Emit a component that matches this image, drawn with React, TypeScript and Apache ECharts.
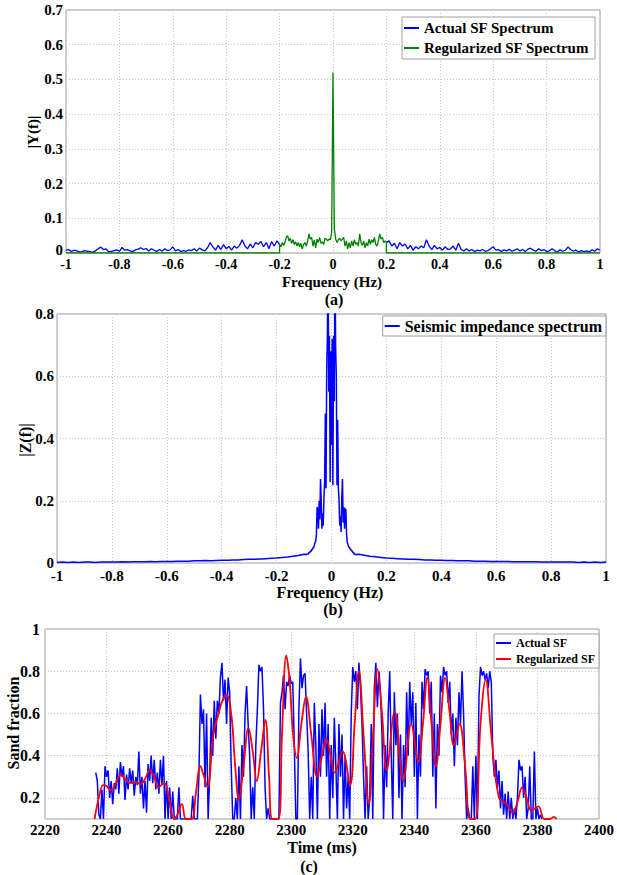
import React, { useEffect, useRef } from "react";
import * as echarts from "echarts";

const FONT = "'Liberation Serif', 'Times New Roman', serif";

// ---------- (a) spectra ----------
const freqTicksA = { min: -1, max: 1, step: 0.2 };
// Actual SF spectrum, f = -1.00 ... -0.20 (step 0.01)
const actualLeft = [
  0.008, 0.01, 0.004, 0.008, 0.006, 0.003, 0.004, 0.007, 0.005, 0.004,
  0.002, 0.006, 0.012, 0.017, 0.01, 0.012, 0.003, 0.005, 0.007, 0.009,
  0.005, 0.016, 0.008, 0.01, 0.006, 0.004, 0.009, 0.011, 0.015, 0.01,
  0.013, 0.006, 0.012, 0.008, 0.004, 0.01, 0.005, 0.012, 0.007, 0.009,
  0.018, 0.006, 0.01, 0.004, 0.007, 0.005, 0.009, 0.007, 0.012, 0.006,
  0.014, 0.009, 0.006, 0.015, 0.03, 0.018, 0.008, 0.022, 0.01, 0.024,
  0.012, 0.019, 0.008, 0.02, 0.014, 0.022, 0.038, 0.02, 0.012, 0.026,
  0.015, 0.03, 0.025, 0.033, 0.018, 0.03, 0.012, 0.033, 0.02, 0.035,
  0.025,
];
// Actual SF spectrum, f = 0.20 ... 1.00 (step 0.01)
const actualRight = [
  0.03, 0.035, 0.02, 0.028, 0.012, 0.03, 0.02, 0.026, 0.012, 0.022,
  0.008, 0.018, 0.012, 0.02, 0.015, 0.038, 0.02, 0.01, 0.022, 0.012,
  0.016, 0.008, 0.018, 0.01, 0.012, 0.02, 0.008, 0.028, 0.01, 0.006,
  0.012, 0.006, 0.01, 0.004, 0.008, 0.006, 0.01, 0.005, 0.007, 0.012,
  0.018, 0.008, 0.01, 0.004, 0.009, 0.006, 0.011, 0.005, 0.008, 0.012,
  0.006, 0.01, 0.004, 0.011, 0.014, 0.008, 0.005, 0.012, 0.007, 0.01,
  0.004, 0.006, 0.012, 0.007, 0.003, 0.009, 0.005, 0.008, 0.017, 0.01,
  0.005, 0.008, 0.003, 0.007, 0.004, 0.006, 0.003, 0.009, 0.005, 0.012,
  0.008,
];
// Regularized SF spectrum, f = -0.200 ... 0.200 (step 0.005), zero elsewhere
const regularizedInner = [
  0.025, 0.018, 0.03, 0.022, 0.03, 0.045, 0.05, 0.035, 0.042, 0.028,
  0.038, 0.025, 0.032, 0.02, 0.03, 0.018, 0.028, 0.012, 0.025, 0.03,
  0.02, 0.035, 0.055, 0.04, 0.045, 0.02, 0.038, 0.015, 0.04, 0.03,
  0.045, 0.028, 0.032, 0.025, 0.042, 0.04, 0.035, 0.04, 0.038, 0.06,
  0.52,
  0.07, 0.04, 0.03, 0.038, 0.042, 0.035, 0.04, 0.045, 0.02, 0.035,
  0.012, 0.03, 0.015, 0.035, 0.02, 0.038, 0.025, 0.03, 0.02, 0.055,
  0.03, 0.022, 0.035, 0.015, 0.03, 0.02, 0.04, 0.025, 0.038, 0.03,
  0.045, 0.025, 0.02, 0.035, 0.055, 0.04, 0.045, 0.03, 0.035, 0.03,
];

// ---------- (b) seismic impedance spectrum ----------
// f = -1.00 ... -0.10 (step 0.02)
const impLeft = [
  0.002, 0.003, 0.002, 0.003, 0.002, 0.003, 0.003, 0.002, 0.003, 0.003,
  0.003, 0.003, 0.004, 0.003, 0.004, 0.004, 0.004, 0.005, 0.004, 0.005,
  0.005, 0.005, 0.006, 0.006, 0.006, 0.007, 0.007, 0.008, 0.007, 0.008,
  0.009, 0.009, 0.01, 0.01, 0.011, 0.012, 0.012, 0.013, 0.014, 0.015,
  0.016, 0.018, 0.019, 0.022, 0.024, 0.028,
];
// f = -0.09 ... 0.09 (step 0.0025)
const impCenter = [
  0.027, 0.03, 0.028, 0.034, 0.032, 0.038, 0.036, 0.044, 0.042, 0.05,
  0.048, 0.058, 0.066, 0.07, 0.09, 0.18, 0.17, 0.11, 0.2, 0.14,
  0.27, 0.2, 0.11, 0.16, 0.12, 0.21, 0.26, 0.48, 0.24, 0.62,
  0.73, 1.0, 0.55, 0.73, 0.26, 0.68, 0.38, 0.72, 0.25, 0.73,
  0.52, 1.0, 0.7, 0.6, 0.25, 0.46, 0.24, 0.2, 0.12, 0.15,
  0.1, 0.21, 0.27, 0.13, 0.18, 0.11, 0.175, 0.17, 0.09, 0.065,
  0.06, 0.05, 0.052, 0.044, 0.046, 0.038, 0.04, 0.033, 0.035, 0.028,
  0.03, 0.026, 0.027,
];
// f = 0.10 ... 1.00 (step 0.02)
const impRight = [
  0.028, 0.025, 0.022, 0.02, 0.018, 0.016, 0.015, 0.014, 0.013, 0.012,
  0.012, 0.011, 0.01, 0.01, 0.009, 0.009, 0.008, 0.008, 0.007, 0.007,
  0.007, 0.006, 0.006, 0.006, 0.005, 0.005, 0.005, 0.005, 0.004, 0.004,
  0.004, 0.004, 0.004, 0.003, 0.003, 0.003, 0.003, 0.003, 0.003, 0.003,
  0.002, 0.003, 0.002, 0.003, 0.002, 0.003,
];

// ---------- (c) sand fraction ----------
const actualStart = 2236.5;
const actualStep = 0.5;
const actualSF = [
  0.32, 0.28, 0.12, 0.1, 0.24, 0.1, 0.35, 0.3, 0.33, 0.2,
  0.28, 0.17, 0.27, 0.24, 0.34, 0.22, 0.37, 0.3, 0.35, 0.19,
  0.31, 0.24, 0.34, 0.27, 0.33, 0.21, 0.3, 0.26, 0.42, 0.22,
  0.3, 0.15, 0.28, 0.13, 0.36, 0.28, 0.4, 0.27, 0.38, 0.24,
  0.32, 0.22, 0.38, 0.26, 0.4, 0.1, 0.28, 0.1, 0.25, 0.1,
  0.23, 0.1, 0.1, 0.1, 0.25, 0.1, 0.1, 0.1, 0.1, 0.1,
  0.1, 0.1, 0.1, 0.21, 0.1, 0.1, 0.1, 0.3, 0.69, 0.55,
  0.62, 0.25, 0.6, 0.1, 0.3, 0.58, 0.4, 0.66, 0.48, 0.66,
  0.6, 0.77, 0.84, 0.66, 0.76, 0.55, 0.77, 0.7, 0.35, 0.1,
  0.1, 0.2, 0.1, 0.35, 0.1, 0.45, 0.3, 0.6, 0.73, 0.55,
  0.4, 0.1, 0.25, 0.1, 0.45, 0.62, 0.83, 0.8, 0.82, 0.62,
  0.25, 0.1, 0.15, 0.1, 0.1, 0.1, 0.1, 0.1, 0.1, 0.1,
  0.65, 0.7, 0.78, 0.62, 0.75, 0.73, 0.78, 0.74, 0.75, 0.45,
  0.1, 0.1, 0.62, 0.86, 0.72, 0.78, 0.79, 0.6, 0.42, 0.1,
  0.3, 0.1, 0.65, 0.45, 0.1, 0.55, 0.3, 0.62, 0.4, 0.65,
  0.3, 0.55, 0.1, 0.45, 0.2, 0.58, 0.35, 0.1, 0.55, 0.3,
  0.5, 0.1, 0.4, 0.15, 0.3, 0.1, 0.6, 0.82, 0.75, 0.8,
  0.62, 0.84, 0.72, 0.55, 0.3, 0.1, 0.35, 0.1, 0.2, 0.55,
  0.1, 0.72, 0.84, 0.63, 0.8, 0.7, 0.5, 0.1, 0.45, 0.25,
  0.6, 0.8, 0.4, 0.1, 0.7, 0.45, 0.6, 0.2, 0.5, 0.1,
  0.45, 0.25, 0.7, 0.4, 0.75, 0.55, 0.7, 0.3, 0.65, 0.1,
  0.5, 0.3, 0.75, 0.62, 0.81, 0.78, 0.8, 0.6, 0.75, 0.3,
  0.6, 0.15, 0.55, 0.4, 0.78, 0.7, 0.82, 0.78, 0.8, 0.65,
  0.75, 0.5, 0.6, 0.35, 0.58, 0.45, 0.7, 0.55, 0.8, 0.6,
  0.3, 0.1, 0.15, 0.1, 0.1, 0.35, 0.1, 0.4, 0.1, 0.68,
  0.82, 0.78, 0.8, 0.76, 0.79, 0.72, 0.8, 0.75, 0.4, 0.3,
  0.38, 0.25, 0.33, 0.15, 0.28, 0.12, 0.22, 0.1, 0.23, 0.1,
  0.2, 0.1, 0.15, 0.1, 0.2, 0.38, 0.33, 0.35, 0.2, 0.3,
  0.1, 0.15, 0.35, 0.1, 0.1, 0.42, 0.1, 0.15, 0.1, 0.12,
  0.1,
];
const regTimes = [
  2236.1, 2237.5, 2238.9, 2240, 2241.5, 2243, 2244.7, 2246, 2247.9, 2249.5,
  2251.1, 2252.5, 2254, 2255.5, 2256.8, 2258.7, 2260.3, 2261.9, 2263, 2264.5,
  2265.8, 2267.7, 2269, 2270.5, 2271.5, 2272.8, 2274.7, 2276.4, 2277.6, 2279,
  2280.5, 2281.8, 2283, 2284.5, 2286.1, 2287.5, 2288.8, 2290.2, 2291.6, 2292.8,
  2293.9, 2295.8, 2297, 2298.4, 2299.5, 2300.6, 2301.8, 2303.3, 2304.8, 2306.5,
  2308.4, 2310, 2311.4, 2312.8, 2314.1, 2316.7, 2319.1, 2320.6, 2322, 2323.5,
  2325.2, 2326.6, 2328, 2329.5, 2331, 2333.6, 2336.4, 2339, 2341.3, 2342.8,
  2344.2, 2345.6, 2347, 2348.5, 2350, 2351.5, 2352.8, 2354.7, 2356.5, 2358.2,
  2359.8, 2361.5, 2363.2, 2365, 2367.5, 2370, 2372, 2373.5, 2375, 2376.5,
  2378, 2380.3, 2382.2, 2384, 2385.4, 2386.2,
];
const regValues = [
  0.1, 0.2, 0.26, 0.255, 0.235, 0.27, 0.31, 0.29, 0.27, 0.275,
  0.265, 0.29, 0.33, 0.3, 0.25, 0.27, 0.2, 0.1, 0.12, 0.17,
  0.1, 0.1, 0.22, 0.35, 0.31, 0.25, 0.5, 0.6, 0.66, 0.685,
  0.6, 0.35, 0.19, 0.35, 0.53, 0.42, 0.28, 0.42, 0.57, 0.3,
  0.1, 0.1, 0.5, 0.875, 0.75, 0.5, 0.39, 0.55, 0.68, 0.5,
  0.3, 0.4, 0.48, 0.4, 0.32, 0.42, 0.26, 0.55, 0.8, 0.5,
  0.17, 0.5, 0.81, 0.6, 0.33, 0.61, 0.28, 0.55, 0.37, 0.55,
  0.77, 0.55, 0.35, 0.55, 0.77, 0.6, 0.45, 0.55, 0.35, 0.1,
  0.1, 0.55, 0.76, 0.5, 0.2, 0.17, 0.13, 0.18, 0.25, 0.2,
  0.14, 0.16, 0.1, 0.1, 0.11, 0.1,
];

const BLUE = "#0000ff";
const GREEN = "#008000";
const RED = "#ff0000";
const GRID_COLOR = "#c4c4c4";
const BORDER = "#a0a0a0";

const r4 = (v: number) => Math.round(v * 10000) / 10000;
const fmt1 = (v: number) => String(Math.round(v * 10) / 10);

function axisLabel(size: number, margin: number, formatter?: any, extra?: any) {
  return {
    fontFamily: FONT,
    fontWeight: "bold",
    fontSize: size,
    color: "#000",
    margin,
    formatter: formatter || fmt1,
    ...(extra || {}),
  };
}
const splitLine = {
  show: true,
  lineStyle: { color: GRID_COLOR, type: [1, 2], width: 1 },
};

function text(str: string, x: number, y: number, size: number, rot = 0) {
  return {
    type: "text",
    x,
    y,
    rotation: rot,
    style: {
      text: str,
      fontFamily: FONT,
      fontWeight: "bold",
      fontSize: size,
      fill: "#000",
      align: "center",
      verticalAlign: "middle",
    },
  };
}

export default function App() {
  const ref = useRef<HTMLDivElement>(null);
  useEffect(() => {
    document.body.style.margin = "0";
    const chart = echarts.init(ref.current!, null, { renderer: "svg" });

    const blueLeft = actualLeft.map((v, i) => [r4(-1 + i * 0.01), v]);
    const blueRight = actualRight.map((v, i) => [r4(0.2 + i * 0.01), v]);
    const green = [
      [-1, 0],
      [-0.2, 0],
      ...regularizedInner.map((v, i) => [r4(-0.2 + i * 0.005), v]),
      [0.2, 0],
      [1, 0],
    ];
    const imp = [
      ...impLeft.map((v, i) => [r4(-1 + i * 0.02), v]),
      ...impCenter.map((v, i) => [r4(-0.09 + i * 0.0025), v]),
      ...impRight.map((v, i) => [r4(0.1 + i * 0.02), v]),
    ];
    const sf = actualSF.map((v, i) => [actualStart + i * actualStep, v]);
    const reg = regTimes.map((t, i) => [t, regValues[i]]);

    const gridBase = {
      show: true,
      borderColor: BORDER,
      borderWidth: 1,
      backgroundColor: "rgba(0,0,0,0)",
    };

    const legendBase = {
      orient: "vertical",
      backgroundColor: "#fff",
      borderColor: BORDER,
      borderWidth: 1,
      borderRadius: 0,
      icon: "rect",
      itemHeight: 2,
      selectedMode: false,
      align: "left",
    };

    chart.setOption({
      animation: false,
      backgroundColor: "#fff",
      grid: [
        { ...gridBase, left: 66, top: 10, width: 534, height: 243 },
        { ...gridBase, left: 57, top: 314, width: 549, height: 249 },
        { ...gridBase, left: 45, top: 629, width: 555, height: 190 },
      ],
      xAxis: [
        {
          gridIndex: 0, type: "value", min: freqTicksA.min, max: freqTicksA.max, interval: freqTicksA.step,
          axisLine: { show: false }, axisTick: { show: false }, splitLine,
          axisLabel: axisLabel(14, 4, null, { lineHeight: 15 }),
        },
        {
          gridIndex: 1, type: "value", min: -1, max: 1, interval: 0.2,
          axisLine: { show: false }, axisTick: { show: false }, splitLine,
          axisLabel: axisLabel(15, 5),
        },
        {
          gridIndex: 2, type: "value", min: 2220, max: 2400, interval: 20,
          axisLine: { show: false }, axisTick: { show: false }, splitLine,
          axisLabel: axisLabel(15, 3, (v: number) => String(v)),
        },
      ],
      yAxis: [
        {
          gridIndex: 0, type: "value", min: 0, max: 0.7, interval: 0.1,
          axisLine: { show: false }, axisTick: { show: false }, splitLine,
          axisLabel: axisLabel(
            15, 3,
            (v: number) => (v === 0 ? "{z|0}" : fmt1(v)),
            {
              lineHeight: 15,
              rich: {
                z: {
                  fontFamily: FONT, fontWeight: "bold", fontSize: 15, color: "#000",
                  lineHeight: 15, padding: [0, 0, 7, 0],
                },
              },
            }
          ),
        },
        {
          gridIndex: 1, type: "value", min: 0, max: 0.8, interval: 0.2,
          axisLine: { show: false }, axisTick: { show: false }, splitLine,
          axisLabel: axisLabel(15, 3),
        },
        {
          gridIndex: 2, type: "value", min: 0.1, max: 1, interval: 0.1,
          axisLine: { show: false }, axisTick: { show: false },
          splitLine: {
            show: true,
            lineStyle: { color: ["rgba(0,0,0,0)", GRID_COLOR], type: [1, 2], width: 1 },
          },
          axisLabel: axisLabel(16, 5, (v: number) => {
            const t = Math.round(v * 10);
            return t % 2 === 0 ? String(t / 10) : "";
          }),
        },
      ],
      legend: [
        {
          ...legendBase,
          data: ["Actual SF Spectrum", "Regularized SF Spectrum"],
          right: 22, top: 17,
          padding: [2, 6, 2, 2],
          itemGap: 2, itemWidth: 15,
          textStyle: { fontFamily: FONT, fontWeight: "bold", fontSize: 15, color: "#000", lineHeight: 18 },
        },
        {
          ...legendBase,
          data: ["Seismic impedance spectrum"],
          right: 11, top: 316,
          padding: [1, 4, 1, 2],
          itemWidth: 15,
          textStyle: { fontFamily: FONT, fontWeight: "bold", fontSize: 16, color: "#000", lineHeight: 18 },
        },
        {
          ...legendBase,
          data: ["Actual SF", "Regularized SF"],
          right: 18, top: 634,
          padding: [2, 4, 2, 2],
          itemGap: 2, itemWidth: 15,
          textStyle: { fontFamily: FONT, fontWeight: "bold", fontSize: 12, color: "#000", lineHeight: 14 },
        },
      ],
      series: [
        {
          name: "Actual SF Spectrum", type: "line", xAxisIndex: 0, yAxisIndex: 0,
          data: blueLeft, showSymbol: false, symbol: "none",
          lineStyle: { color: BLUE, width: 1.3 }, itemStyle: { color: BLUE },
        },
        {
          name: "Actual SF Spectrum", type: "line", xAxisIndex: 0, yAxisIndex: 0,
          data: blueRight, showSymbol: false, symbol: "none",
          lineStyle: { color: BLUE, width: 1.3 }, itemStyle: { color: BLUE },
        },
        {
          name: "Regularized SF Spectrum", type: "line", xAxisIndex: 0, yAxisIndex: 0,
          data: green, showSymbol: false, symbol: "none",
          lineStyle: { color: GREEN, width: 1.3 }, itemStyle: { color: GREEN },
        },
        {
          name: "Seismic impedance spectrum", type: "line", xAxisIndex: 1, yAxisIndex: 1,
          data: imp, showSymbol: false, symbol: "none",
          lineStyle: { color: BLUE, width: 1.5 }, itemStyle: { color: BLUE },
        },
        {
          name: "Actual SF", type: "line", xAxisIndex: 2, yAxisIndex: 2,
          data: sf, showSymbol: false, symbol: "none",
          lineStyle: { color: BLUE, width: 1.5 }, itemStyle: { color: BLUE },
        },
        {
          name: "Regularized SF", type: "line", xAxisIndex: 2, yAxisIndex: 2,
          data: reg, showSymbol: false, symbol: "none", smooth: 0.4,
          lineStyle: { color: RED, width: 1.8 }, itemStyle: { color: RED },
        },
      ],
      graphic: [
        text("Frequency (Hz)", 332, 282, 15),
        text("(a)", 334, 299, 16),
        text("|Y(f)|", 33, 132, 15, Math.PI / 2),
        text("Frequency (Hz)", 330, 592, 16),
        text("(b)", 333, 609, 16),
        text("|Z(f)|", 25, 440, 16, Math.PI / 2),
        text("Time (ms)", 322, 847, 16),
        text("(c)", 309, 866, 16),
        text("Sand fraction", 13, 723, 16, Math.PI / 2),
      ],
    });
    return () => chart.dispose();
  }, []);
  return <div ref={ref} style={{ width: 617, height: 875 }} />;
}
